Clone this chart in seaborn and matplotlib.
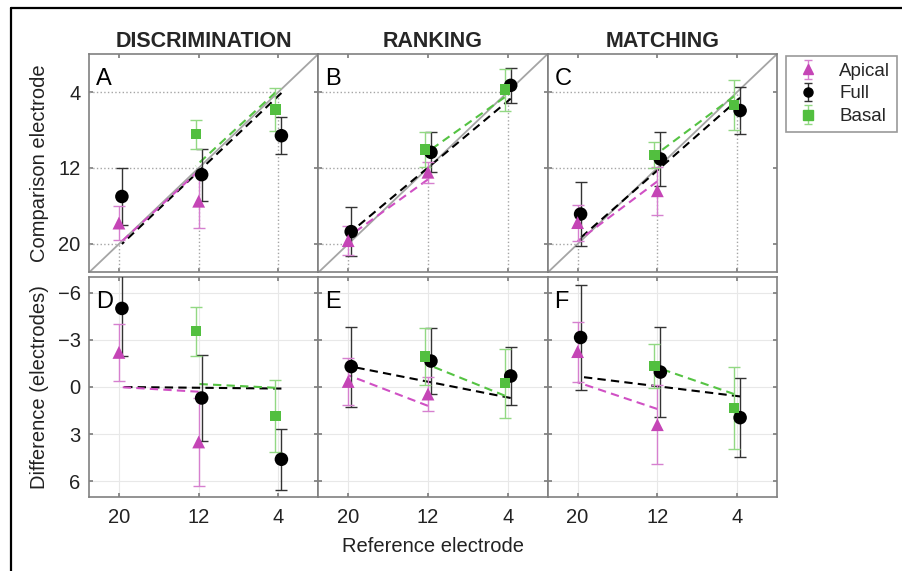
import numpy as np
import pandas as pd
import matplotlib
matplotlib.use('Agg')
import matplotlib.pyplot as plt
import seaborn as sns
from matplotlib.lines import Line2D

# electrode numbers tested per group
tasks = ['DISCRIMINATION', 'RANKING', 'MATCHING']
letters_top = ['A', 'B', 'C']
letters_bot = ['D', 'E', 'F']
apical_ref = [20, 12]
full_ref = [20, 12, 4]
basal_ref = [12, 4]

# difference (comparison - reference), electrodes; error = half bar length
disc_apical = [-2.2, 3.5]
disc_apical_err = [1.8, 2.8]
disc_full = [-5.0, 0.7, 4.6]
disc_full_err = [3.0, 2.75, 1.95]
disc_basal = [-3.55, 1.85]
disc_basal_err = [1.55, 2.3]

rank_apical = [-0.35, 0.45]
rank_apical_err = [1.5, 1.1]
rank_full = [-1.3, -1.65, -0.7]
rank_full_err = [2.55, 2.1, 1.85]
rank_basal = [-1.95, -0.25]
rank_basal_err = [1.8, 2.2]

match_apical = [-2.25, 2.4]
match_apical_err = [1.9, 2.5]
match_full = [-3.15, -0.95, 1.95]
match_full_err = [3.35, 2.85, 2.5]
match_basal = [-1.35, 1.35]
match_basal_err = [1.4, 2.6]

# dashed fit lines, value at first and last electrode of each group
disc_fit = {'Apical': [0.0, 0.3], 'Full': [0.0, 0.1], 'Basal': [-0.2, 0.05]}
rank_fit = {'Apical': [-0.75, 1.2], 'Full': [-1.3, 0.7], 'Basal': [-1.5, 0.55]}
match_fit = {'Apical': [-0.3, 1.4], 'Full': [-0.65, 0.6], 'Basal': [-1.3, 0.45]}

task_data = {
    'DISCRIMINATION': {'Apical': (disc_apical, disc_apical_err),
                       'Full': (disc_full, disc_full_err),
                       'Basal': (disc_basal, disc_basal_err)},
    'RANKING': {'Apical': (rank_apical, rank_apical_err),
                'Full': (rank_full, rank_full_err),
                'Basal': (rank_basal, rank_basal_err)},
    'MATCHING': {'Apical': (match_apical, match_apical_err),
                 'Full': (match_full, match_full_err),
                 'Basal': (match_basal, match_basal_err)},
}
task_fits = {'DISCRIMINATION': disc_fit, 'RANKING': rank_fit, 'MATCHING': match_fit}
group_refs = {'Apical': apical_ref, 'Full': full_ref, 'Basal': basal_ref}

style = {
    'Apical': dict(marker='^', s=85, color='#c545b6', ecolor='#d680cf', shift=0.0),
    'Full': dict(marker='o', s=95, color='black', ecolor='#333333', shift=-0.3),
    'Basal': dict(marker='s', s=55, color='#52bf3f', ecolor='#92d883', shift=0.3),
}
fitcol = {'Apical': '#d050c4', 'Full': 'black', 'Basal': '#55c343'}

sns.set_theme(style='white')
plt.rcParams['font.family'] = ['Liberation Sans', 'DejaVu Sans']
plt.rcParams['axes.edgecolor'] = '#808080'
plt.rcParams['axes.linewidth'] = 1.2

W, H = 903, 571
fig = plt.figure(figsize=(W / 100, H / 100), dpi=100)

lefts = [89, 318.3, 547.7]
pw = 229.3
GRAY = '#a5a5a5'

for i, task in enumerate(tasks):
    axt = fig.add_axes([lefts[i] / W, 1 - 272.5 / H, pw / W, 218.5 / H])
    axb = fig.add_axes([lefts[i] / W, 1 - 497 / H, pw / W, 220 / H])

    # top: comparison vs reference
    axt.plot([23, 0], [23, 0], color=GRAY, lw=1.3, zorder=1)
    for r in full_ref:
        axt.plot([23, r], [r, r], color=GRAY, lw=1, ls=':', zorder=1)
        axt.plot([r, r], [23, r], color=GRAY, lw=1, ls=':', zorder=1)

    for ax in (axt, axb):
        ax.set_xlim(23, 0)
        ax.set_xticks(full_ref)
        ax.tick_params(direction='in', length=3, color='#808080', top=True,
                       right=True, left=True, bottom=True, labelsize=14.5,
                       labelcolor='#222222')
    axt.set_ylim(23, 0)
    axt.set_yticks([4, 12, 20])
    axt.set_xticklabels([])
    axb.set_ylim(7, -7)
    axb.set_yticks([-6, -3, 0, 3, 6])
    axb.grid(True, color='#e8e8e8', lw=0.8)
    axb.tick_params(axis='x', pad=8)
    if i > 0:
        axt.set_yticklabels([])
        axb.set_yticklabels([])
    else:
        axt.tick_params(axis='y', pad=6)
        axb.tick_params(axis='y', pad=6)

    for g in ['Full', 'Apical', 'Basal']:
        st = style[g]
        diff, err = task_data[task][g]
        ref = np.array(group_refs[g], dtype=float)
        xs = ref + st['shift']
        df = pd.DataFrame({'x': xs, 'diff': diff,
                           'comp': ref + np.array(diff)})
        fit = np.array(task_fits[task][g])
        fx = np.array([xs[0], xs[-1]])
        fref = np.array([ref[0], ref[-1]])
        sns.lineplot(x=fx, y=fit, ax=axb, color=fitcol[g], lw=1.5,
                     linestyle=(0, (4, 2.5)), zorder=2)
        sns.lineplot(x=fx, y=fref + fit, ax=axt, color=fitcol[g], lw=1.5,
                     linestyle=(0, (4, 2.5)), zorder=2)
        for ax, col in ((axb, 'diff'), (axt, 'comp')):
            ax.errorbar(df['x'], df[col], yerr=err, fmt='none',
                        ecolor=st['ecolor'], elinewidth=1, capsize=4,
                        capthick=1, zorder=3)
            sns.scatterplot(data=df, x='x', y=col, ax=ax, marker=st['marker'],
                            s=st['s'], color=st['color'], edgecolor='none',
                            zorder=4)

    for ax in (axt, axb):
        ax.set_xlabel('')
        ax.set_ylabel('')
    axt.text(0.03, 0.86, letters_top[i], transform=axt.transAxes,
             fontsize=17, color='black')
    axb.text(0.03, 0.86, letters_bot[i], transform=axb.transAxes,
             fontsize=17, color='black')
    axt.set_title(task, fontsize=15.5, fontweight='bold', pad=5)

fig.text(40 / W, 1 - 163 / H, 'Comparison electrode', rotation=90,
         ha='center', va='center', fontsize=14.5, color='#222222')
fig.text(40 / W, 1 - 387 / H, 'Difference (electrodes)', rotation=90,
         ha='center', va='center', fontsize=14.5, color='#222222')
fig.text(433 / W, 1 - 546 / H, 'Reference electrode', ha='center',
         va='center', fontsize=14.5, color='#222222')

# legend with error-bar handles
hax = fig.add_axes([0, 0, 0.01, 0.01])
hax.set_axis_off()
handles = []
for g in ['Apical', 'Full', 'Basal']:
    st = style[g]
    h = hax.errorbar([0], [0], yerr=[1], fmt=st['marker'], color=st['color'],
                     ecolor=st['ecolor'], ms=6.5, elinewidth=1, capsize=3,
                     label=g)
    handles.append(h)
hax.set_xlim(5, 6)
leg = fig.legend(handles, ['Apical', 'Full', 'Basal'], loc='upper left',
                 bbox_to_anchor=(786 / W, 1 - 56 / H), fontsize=13.5,
                 frameon=True, fancybox=False, edgecolor='#808080',
                 handlelength=1.6, handletextpad=0.9, borderpad=0.35,
                 labelspacing=0.3, borderaxespad=0)
leg.get_frame().set_linewidth(1.2)

# outer frame (top and left edges only)
fig.add_artist(Line2D([11 / W, 1], [1 - 8 / H, 1 - 8 / H], color='black', lw=1.6))
fig.add_artist(Line2D([11 / W, 11 / W], [0, 1 - 8 / H], color='black', lw=1.6))

fig.savefig('out.png', dpi=100)
